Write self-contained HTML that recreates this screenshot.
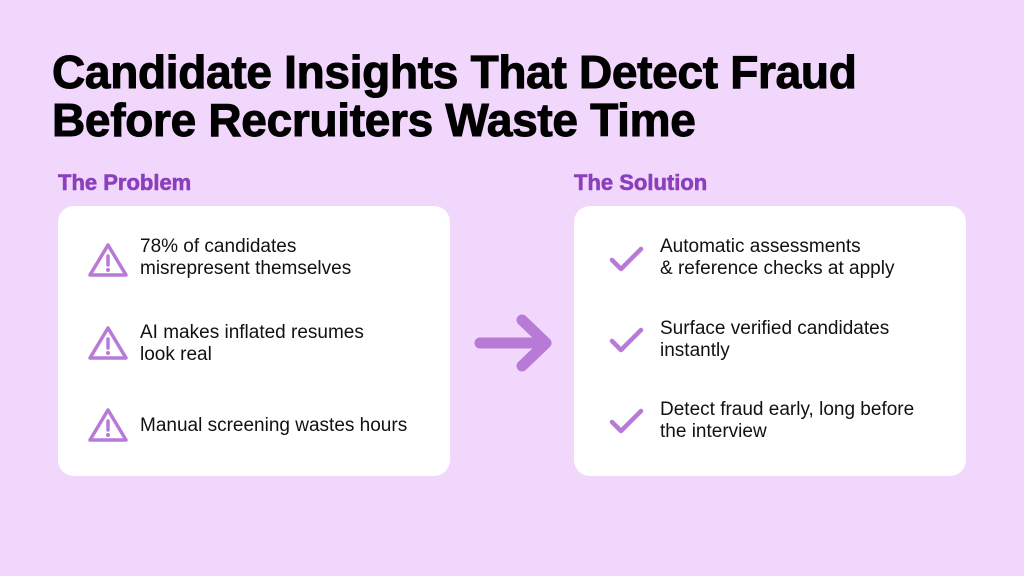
<!DOCTYPE html>
<html><head><style>
body{margin:0;width:1024px;height:576px;background:#f0d7fb;font-family:"Liberation Sans",sans-serif;position:relative;overflow:hidden}
.t{position:absolute;left:52px;top:48px;font-size:46px;font-weight:bold;line-height:48px;letter-spacing:-0.3px;color:#000;-webkit-text-stroke:1px #000}
.h{position:absolute;font-size:22px;font-weight:bold;color:#8b3fbd;top:170px;-webkit-text-stroke:0.6px #8b3fbd}
.card{position:absolute;top:206px;width:392px;height:270px;background:#fff;border-radius:16px}
.it{position:absolute;left:82px;font-size:19px;line-height:22px;color:#111}
.ic{position:absolute;left:28px}
</style></head><body>
<div class="t">Candidate Insights That Detect Fraud<br>Before Recruiters Waste Time</div>
<div class="h" style="left:58px">The Problem</div>
<div class="h" style="left:574px">The Solution</div>
<div class="card" style="left:58px">
 <svg class="ic" style="top:35px" width="44" height="38" viewBox="0 0 44 38"><path d="M22 4 L40 34 L4 34 Z" fill="none" stroke="#b77ad6" stroke-width="3.5" stroke-linejoin="round"/><line x1="22" y1="15" x2="22" y2="24" stroke="#b77ad6" stroke-width="3.5" stroke-linecap="round"/><circle cx="22" cy="29" r="2" fill="#b77ad6"/></svg>
 <div class="it" style="top:30px">78% of candidates<br>misrepresent themselves</div>
 <svg class="ic" style="top:118px" width="44" height="38" viewBox="0 0 44 38"><path d="M22 4 L40 34 L4 34 Z" fill="none" stroke="#b77ad6" stroke-width="3.5" stroke-linejoin="round"/><line x1="22" y1="15" x2="22" y2="24" stroke="#b77ad6" stroke-width="3.5" stroke-linecap="round"/><circle cx="22" cy="29" r="2" fill="#b77ad6"/></svg>
 <div class="it" style="top:116px">AI makes inflated resumes<br>look real</div>
 <svg class="ic" style="top:200px" width="44" height="38" viewBox="0 0 44 38"><path d="M22 4 L40 34 L4 34 Z" fill="none" stroke="#b77ad6" stroke-width="3.5" stroke-linejoin="round"/><line x1="22" y1="15" x2="22" y2="24" stroke="#b77ad6" stroke-width="3.5" stroke-linecap="round"/><circle cx="22" cy="29" r="2" fill="#b77ad6"/></svg>
 <div class="it" style="top:209px">Manual screening wastes hours</div>
</div>
<svg style="position:absolute;left:470px;top:312px" width="90" height="62" viewBox="0 0 90 62"><path d="M10 31 H76 M52 8 L76 31 L52 54" fill="none" stroke="#b77ad6" stroke-width="11" stroke-linecap="round" stroke-linejoin="round"/></svg>
<div class="card" style="left:574px">
 <svg class="ic" style="left:34px;top:38px" width="38" height="30" viewBox="0 0 38 30"><path d="M4 16 L13 25 L33 5" fill="none" stroke="#b77ad6" stroke-width="4.5" stroke-linecap="round" stroke-linejoin="round"/></svg>
 <div class="it" style="left:86px;top:30px">Automatic assessments<br>&amp; reference checks at apply</div>
 <svg class="ic" style="left:34px;top:119px" width="38" height="30" viewBox="0 0 38 30"><path d="M4 16 L13 25 L33 5" fill="none" stroke="#b77ad6" stroke-width="4.5" stroke-linecap="round" stroke-linejoin="round"/></svg>
 <div class="it" style="left:86px;top:112px">Surface verified candidates<br>instantly</div>
 <svg class="ic" style="left:34px;top:200px" width="38" height="30" viewBox="0 0 38 30"><path d="M4 16 L13 25 L33 5" fill="none" stroke="#b77ad6" stroke-width="4.5" stroke-linecap="round" stroke-linejoin="round"/></svg>
 <div class="it" style="left:86px;top:193px">Detect fraud early, long before<br>the interview</div>
</div>
</body></html>
